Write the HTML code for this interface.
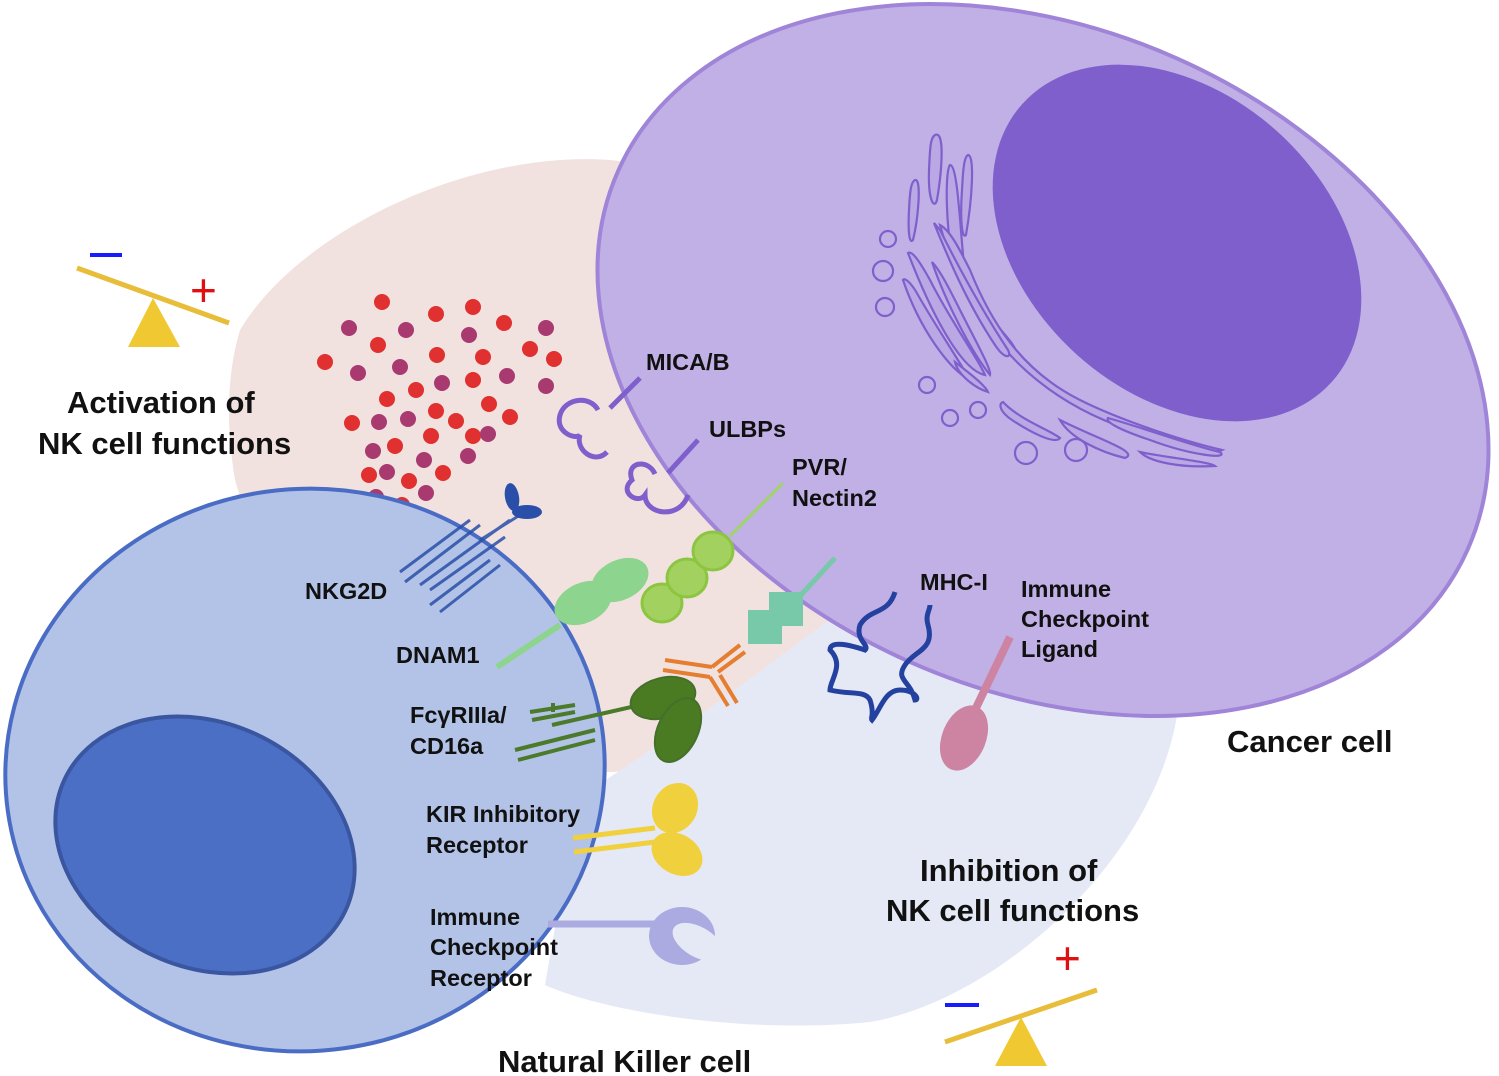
<!DOCTYPE html>
<html><head><meta charset="utf-8"><style>
html,body{margin:0;padding:0;background:#fff}
svg{display:block}
text{font-family:"Liberation Sans",Arial,sans-serif;font-weight:bold;fill:#111}
</style></head><body>
<svg width="1499" height="1076" viewBox="0 0 1499 1076" xmlns="http://www.w3.org/2000/svg">
<path d="M240,330 C300,230 470,150 610,160 C760,175 880,420 860,560 C840,680 720,770 610,772 C450,775 280,640 235,480 C225,420 228,370 240,330 Z" fill="#f1e2e0"/>
<path d="M590,790 C700,720 800,640 870,590 C980,560 1100,600 1180,690 C1170,850 1000,1000 870,1022 C740,1035 600,1010 545,985 C560,900 570,830 590,790 Z" fill="#e5e9f5"/>
<ellipse cx="1043" cy="360" rx="465" ry="330" transform="rotate(24 1043 360)" fill="#c1b0e6" stroke="#9f84d8" stroke-width="4"/>
<ellipse cx="1177" cy="243" rx="208" ry="150" transform="rotate(42 1177 243)" fill="#7f5fcc"/>
<g fill="#b9a8e3" stroke="#7f5fcc" stroke-width="2.2">
<path d="M935,135 C945,130 942,170 937,200 C934,210 928,200 929,170 C930,150 930,138 935,135Z"/>
<path d="M915,180 C922,178 918,220 913,240 C909,245 908,230 909,210 C910,190 911,182 915,180Z"/>
<path d="M968,155 C975,155 972,200 966,235 C962,240 960,220 962,190 C963,170 964,157 968,155Z"/>
<path d="M950,165 C958,165 960,230 965,275 C990,330 1010,330 1020,360 C1000,340 965,300 955,270 C945,230 945,170 950,165Z"/>
<path d="M940,225 C960,300 1010,390 1130,430 C1180,448 1210,455 1222,450 C1180,440 1120,420 1080,400 C1020,370 990,320 970,270 C960,250 950,230 940,225Z"/>
<path d="M934,223 C945,250 965,300 995,345 C1005,360 1012,358 1008,350 C985,315 960,270 940,230Z"/>
<path d="M932,262 C945,300 970,350 990,375 C992,370 975,340 960,310 C950,290 940,270 932,262Z"/>
<path d="M908,253 C930,310 960,370 985,375 C980,362 950,320 930,280 C920,262 912,250 908,253Z"/>
<path d="M903,280 C920,330 950,370 970,380 C960,362 935,325 918,295 C912,284 905,277 903,280Z"/>
<path d="M955,362 C968,372 985,385 988,392 C975,388 958,375 955,362Z"/>
<path d="M1003,402 C1020,420 1050,430 1060,438 C1055,445 1030,432 1012,420 C1000,412 998,404 1003,402Z"/>
<path d="M1060,420 C1100,440 1140,452 1125,458 C1100,452 1070,438 1060,420Z"/>
<path d="M1108,418 C1150,430 1190,445 1220,452 C1230,460 1190,455 1150,440 C1120,430 1105,422 1108,418Z"/>
<path d="M1140,452 C1170,458 1210,462 1215,466 C1180,468 1150,462 1140,452Z"/>
</g>
<g fill="none" stroke="#7f5fcc" stroke-width="2.2">
<circle cx="888" cy="239" r="8"/><circle cx="883" cy="271" r="10"/><circle cx="885" cy="307" r="9"/>
<circle cx="927" cy="385" r="8"/><circle cx="950" cy="418" r="8"/><circle cx="978" cy="410" r="8"/>
<circle cx="1026" cy="453" r="11"/><circle cx="1076" cy="450" r="11"/>
</g>
<g fill="#e03030">
<circle cx="382" cy="302" r="8"/><circle cx="436" cy="314" r="8"/><circle cx="473" cy="307" r="8"/><circle cx="504" cy="323" r="8"/><circle cx="378" cy="345" r="8"/><circle cx="437" cy="355" r="8"/><circle cx="483" cy="357" r="8"/><circle cx="530" cy="349" r="8"/><circle cx="554" cy="359" r="8"/><circle cx="325" cy="362" r="8"/><circle cx="416" cy="390" r="8"/><circle cx="387" cy="399" r="8"/><circle cx="473" cy="380" r="8"/><circle cx="436" cy="411" r="8"/><circle cx="489" cy="404" r="8"/><circle cx="352" cy="423" r="8"/><circle cx="456" cy="421" r="8"/><circle cx="510" cy="417" r="8"/><circle cx="431" cy="436" r="8"/><circle cx="395" cy="446" r="8"/><circle cx="473" cy="436" r="8"/><circle cx="369" cy="475" r="8"/><circle cx="409" cy="481" r="8"/><circle cx="443" cy="473" r="8"/><circle cx="402" cy="505" r="8"/>
</g>
<g fill="#a83a70">
<circle cx="349" cy="328" r="8"/><circle cx="406" cy="330" r="8"/><circle cx="469" cy="335" r="8"/><circle cx="546" cy="328" r="8"/><circle cx="358" cy="373" r="8"/><circle cx="400" cy="367" r="8"/><circle cx="442" cy="383" r="8"/><circle cx="507" cy="376" r="8"/><circle cx="546" cy="386" r="8"/><circle cx="379" cy="422" r="8"/><circle cx="408" cy="419" r="8"/><circle cx="373" cy="451" r="8"/><circle cx="424" cy="460" r="8"/><circle cx="468" cy="456" r="8"/><circle cx="488" cy="434" r="8"/><circle cx="387" cy="472" r="8"/><circle cx="426" cy="493" r="8"/><circle cx="376" cy="497" r="8"/>
</g>
<ellipse cx="305" cy="770" rx="300" ry="281" transform="rotate(-8 305 770)" fill="#b3c3e7" stroke="#4a6cc4" stroke-width="4"/>
<ellipse cx="205" cy="845" rx="155" ry="122" transform="rotate(25 205 845)" fill="#4b6fc4" stroke="#3a56a0" stroke-width="4"/>
<g fill="none" stroke="#7f5fcc" stroke-width="5">
<line x1="610" y1="408" x2="640" y2="378"/>
<path d="M598,410 C590,395 565,398 560,415 C555,432 575,440 580,435 C575,450 595,465 607,452"/>
<line x1="668" y1="473" x2="698" y2="440"/>
<path d="M655,474 C648,458 625,462 632,480 C618,492 638,505 645,495 C645,515 680,520 688,495"/>
</g>
<g stroke="#2a4fa8" stroke-width="3" opacity="0.85">
<line x1="400" y1="572" x2="470" y2="520"/><line x1="405" y1="582" x2="480" y2="525"/>
<line x1="420" y1="585" x2="510" y2="520"/><line x1="430" y1="590" x2="505" y2="537"/>
<line x1="430" y1="605" x2="490" y2="560"/><line x1="440" y1="612" x2="500" y2="565"/>
<line x1="480" y1="540" x2="520" y2="515"/>
</g>
<g fill="#2a4fa8"><ellipse cx="512" cy="497" rx="7" ry="14" transform="rotate(-10 512 497)"/><ellipse cx="527" cy="512" rx="15" ry="7"/></g>
<line x1="497" y1="667" x2="560" y2="625" stroke="#8dd48e" stroke-width="6"/>
<ellipse cx="583" cy="603" rx="30" ry="20" transform="rotate(-25 583 603)" fill="#8dd48e"/>
<ellipse cx="620" cy="580" rx="30" ry="20" transform="rotate(-25 620 580)" fill="#8dd48e"/>
<line x1="730" y1="536" x2="783" y2="483" stroke="#9fd466" stroke-width="3"/>
<g fill="#a3d160" stroke="#8cc540" stroke-width="3">
<ellipse cx="662" cy="603" rx="20" ry="19"/><ellipse cx="687" cy="578" rx="20" ry="19"/><ellipse cx="713" cy="551" rx="20" ry="19"/>
</g>
<line x1="800" y1="596" x2="835" y2="558" stroke="#78c8aa" stroke-width="5"/>
<rect x="748" y="610" width="34" height="34" fill="#78c8aa"/><rect x="769" y="592" width="34" height="34" fill="#78c8aa"/>
<g stroke="#e57e30" stroke-width="4">
<line x1="665" y1="660" x2="712" y2="667"/><line x1="663" y1="670" x2="710" y2="677"/>
<line x1="712" y1="667" x2="740" y2="645"/><line x1="718" y1="672" x2="745" y2="652"/>
<line x1="710" y1="677" x2="728" y2="706"/><line x1="720" y1="675" x2="737" y2="703"/>
</g>
<g stroke="#4a7a2a" stroke-width="4">
<line x1="530" y1="712" x2="575" y2="705"/><line x1="532" y1="720" x2="575" y2="712"/>
<line x1="553" y1="703" x2="553" y2="712"/>
<line x1="552" y1="725" x2="640" y2="705"/>
<line x1="515" y1="750" x2="595" y2="730"/><line x1="518" y1="760" x2="595" y2="740"/>
</g>
<ellipse cx="663" cy="698" rx="33" ry="20" transform="rotate(-15 663 698)" fill="#4a7a22" stroke="#44702a" stroke-width="2"/>
<ellipse cx="678" cy="730" rx="20" ry="34" transform="rotate(25 678 730)" fill="#4a7a22" stroke="#44702a" stroke-width="2"/>
<path d="M895,592 C888,615 870,608 860,625 C855,640 870,645 865,650 C850,645 830,640 830,650 C845,665 830,680 830,690 C850,695 865,690 870,700 C875,715 870,718 872,720 C880,710 885,690 900,690 C915,690 920,700 915,700 C910,680 895,680 905,665 C915,650 935,650 928,625 C925,615 930,610 930,605" fill="none" stroke="#2441a0" stroke-width="5"/>
<line x1="1010" y1="637" x2="975" y2="710" stroke="#cd84a3" stroke-width="8"/>
<ellipse cx="964" cy="738" rx="22" ry="34" transform="rotate(22 964 738)" fill="#cd84a3"/>
<g stroke="#f1d03e" stroke-width="5"><line x1="573" y1="838" x2="655" y2="828"/><line x1="574" y1="852" x2="655" y2="842"/></g>
<ellipse cx="675" cy="808" rx="22" ry="26" transform="rotate(30 675 808)" fill="#f1d03e"/>
<ellipse cx="677" cy="854" rx="27" ry="20" transform="rotate(30 677 854)" fill="#f1d03e"/>
<line x1="548" y1="924" x2="655" y2="924" stroke="#ababe2" stroke-width="7"/>
<ellipse cx="682" cy="936" rx="33" ry="29" fill="#ababe2"/>
<ellipse cx="698" cy="942" rx="28" ry="15" transform="rotate(30 698 942)" fill="#e5e9f5"/>
<line x1="77" y1="268" x2="229" y2="323" stroke="#e8bd3a" stroke-width="5"/>
<polygon points="153,298 128,347 180,347" fill="#f0c832"/>
<rect x="90" y="253" width="32" height="4" fill="#1a1aff"/>
<text x="190" y="306" style="fill:#e01010;font-size:46px;font-weight:normal">+</text>
<line x1="945" y1="1042" x2="1097" y2="990" stroke="#e8bd3a" stroke-width="5"/>
<polygon points="1021,1017 995,1066 1047,1066" fill="#f0c832"/>
<rect x="945" y="1003" width="34" height="4" fill="#1a1aff"/>
<text x="1054" y="974" style="fill:#e01010;font-size:46px;font-weight:normal">+</text>
<g font-size="31">
<text x="67" y="413">Activation of</text>
<text x="38" y="454">NK cell functions</text>
<text x="920" y="881">Inhibition of</text>
<text x="886" y="921">NK cell functions</text>
<text x="1227" y="752">Cancer cell</text>
<text x="498" y="1072">Natural Killer cell</text>
</g>
<g font-size="23.5">
<text x="646" y="370">MICA/B</text>
<text x="709" y="437">ULBPs</text>
<text x="792" y="475">PVR/</text>
<text x="792" y="506">Nectin2</text>
<text x="305" y="599">NKG2D</text>
<text x="396" y="663">DNAM1</text>
<text x="410" y="723">FcγRIIIa/</text>
<text x="410" y="754">CD16a</text>
<text x="920" y="590">MHC-I</text>
<text x="1021" y="597">Immune</text>
<text x="1021" y="627">Checkpoint</text>
<text x="1021" y="657">Ligand</text>
<text x="426" y="822">KIR Inhibitory</text>
<text x="426" y="853">Receptor</text>
<text x="430" y="925">Immune</text>
<text x="430" y="955">Checkpoint</text>
<text x="430" y="986">Receptor</text>
</g>
</svg>
</body></html>
